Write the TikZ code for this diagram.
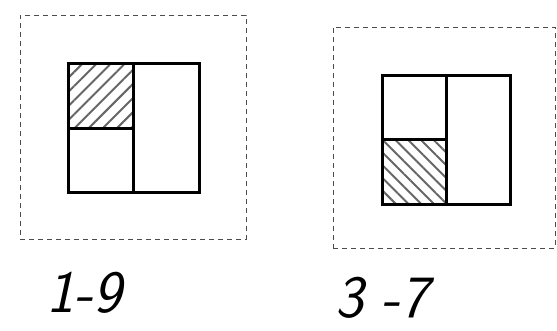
\documentclass[tikz,border=0pt]{standalone}
\usepackage{tikz}
\usetikzlibrary{positioning,patterns.meta}

\begin{document}
\begin{tikzpicture}[
    x=1pt,y=-1pt,
    frame/.style={draw=black!70,dashed,dash pattern=on 5pt off 4pt,thin,
                  inner sep=0pt},
    cell/.style={draw,line width=3pt,inner sep=0pt},
    hatchR/.style={pattern={Lines[angle=45,distance=10pt,line width=2pt]},
                   pattern color=black!60},
    hatchL/.style={pattern={Lines[angle=-45,distance=9pt,line width=2pt]},
                   pattern color=black!60},
    tag/.style={font=\fontsize{60}{60}\selectfont\sffamily\slshape},
  ]
    \useasboundingbox (0,0) rectangle (557,330);
    % left panel
    \node[frame,minimum width=226pt,minimum height=224pt] (F1) at (133,127) {};
    \node[cell,hatchR,minimum width=65pt,minimum height=65pt] (A1) at (100.5,95.5) {};
    \node[cell,minimum width=65pt,minimum height=64pt] (B1) at (100.5,160) {};
    \node[cell,minimum width=66pt,minimum height=129pt] (C1) at (166,127.5) {};
    % right panel
    \node[frame,minimum width=222pt,minimum height=221pt] (F2) at (444,137.5) {};
    \node[cell,minimum width=64pt,minimum height=64pt] (A2) at (414,107) {};
    \node[cell,hatchL,minimum width=64pt,minimum height=65pt] (B2) at (414,171.5) {};
    \node[cell,minimum width=64pt,minimum height=129pt] (C2) at (478,139.5) {};
    % labels
    \node[tag] (L1) at (84,293) {1-9};
    \node[tag] (L2) at (382,298) {3 -7};
\end{tikzpicture}
\end{document}
